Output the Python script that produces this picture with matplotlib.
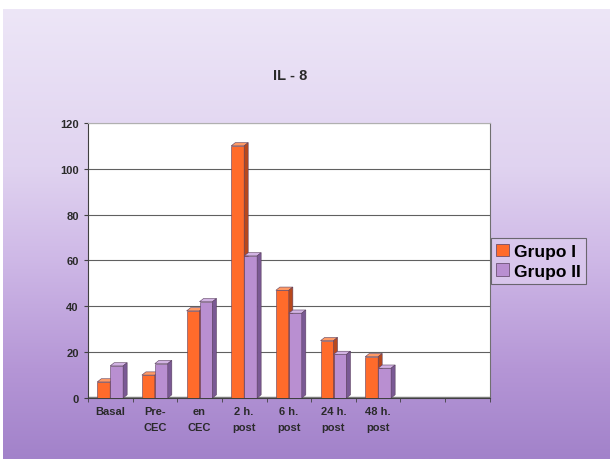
import numpy as np
import matplotlib.pyplot as plt
from matplotlib.colors import LinearSegmentedColormap
from matplotlib.patches import Polygon, Patch

categories = ['Basal', 'Pre-\nCEC', 'en\nCEC', '2 h.\npost', '6 h.\npost',
              '24 h.\npost', '48 h.\npost', '', '']
grupo1 = [7, 10, 38, 110, 47, 25, 18]
grupo2 = [14, 15, 42, 62, 37, 19, 13]
yticks = [0, 20, 40, 60, 80, 100, 120]

plt.rcParams['font.family'] = ['Liberation Sans', 'DejaVu Sans']

fig = plt.figure(figsize=(6.1, 4.6), dpi=100)

# background gradient (scanned slide look)
bg = fig.add_axes([0.005, 0, 0.995, 0.978], zorder=-10)
cmap = LinearSegmentedColormap.from_list(
    'slide', [(0, '#ede6f7'), (0.35, '#e0d3f0'), (0.55, '#cfb9e7'),
              (0.8, '#b596d6'), (1, '#a282ca')])
grad = np.linspace(0, 1, 256).reshape(-1, 1)
bg.imshow(grad, aspect='auto', cmap=cmap, extent=[0, 1, 0, 1], origin='upper')
bg.axis('off')

ax = fig.add_axes([0.144, 0.1326, 0.659, 0.598])
ax.set_facecolor('white')

w = 0.29
dx, dy = 0.09, 1.4
series = [
    (grupo1, -w, '#ff6b2b', '#ff9a66', '#b8481c', 'Grupo I'),
    (grupo2, 0.0, '#b98fd1', '#d2b3e3', '#7a5994', 'Grupo II'),
]
for vals, off, front, top, side, name in series:
    x0 = np.arange(len(vals)) + off
    ax.bar(x0, vals, width=w, align='edge', color=front,
           edgecolor='#5a4060', linewidth=0.4, zorder=3)
    for xl, h in zip(x0, vals):
        xr = xl + w
        ax.add_patch(Polygon([(xl, h), (xr, h), (xr + dx, h + dy), (xl + dx, h + dy)],
                             closed=True, facecolor=top, edgecolor='#5a4060',
                             linewidth=0.4, zorder=3))
        ax.add_patch(Polygon([(xr, 0), (xr + dx, dy), (xr + dx, h + dy), (xr, h)],
                             closed=True, facecolor=side, edgecolor='#5a4060',
                             linewidth=0.4, zorder=3))

ax.set_xlim(-0.5, len(categories) - 0.5)
ax.set_ylim(0, 120)
ax.set_yticks(yticks)
ax.yaxis.grid(True, color='#606060', linewidth=0.8, zorder=0)
ax.axhline(0, color='#808080', linewidth=2.5, zorder=2)

ax.set_xticks(np.arange(len(categories)))
ax.set_xticklabels(categories, fontsize=8, fontweight='bold', color='#2a2a2a',
                   linespacing=1.75)
ax.set_xticks(np.arange(len(categories) + 1) - 0.5, minor=True)
ax.tick_params(axis='x', which='major', length=0, pad=6)
ax.tick_params(axis='x', which='minor', length=3, direction='out', color='#404040')
ax.tick_params(axis='y', labelsize=8, length=3, direction='out', color='#404040',
               labelcolor='#2a2a2a')
for lab in ax.get_yticklabels():
    lab.set_fontweight('bold')

ax.spines['top'].set_color('#b0b0b0')
ax.spines['right'].set_color('#707070')
ax.spines['left'].set_color('#404040')
ax.spines['bottom'].set_color('#404040')

fig.text(0.475, 0.835, 'IL - 8', ha='center', va='center', fontsize=10.5,
         fontweight='bold', color='#2a2a2a')

handles = [Patch(facecolor='#ff6b2b', edgecolor='#5a4060', linewidth=0.5),
           Patch(facecolor='#b98fd1', edgecolor='#5a4060', linewidth=0.5)]
leg = fig.legend(handles, ['Grupo I', 'Grupo II'], loc='center left',
                 bbox_to_anchor=(0.79, 0.43), fontsize=12.5, frameon=True,
                 fancybox=False, handlelength=0.75, handleheight=0.75,
                 handletextpad=0.3, borderpad=0.3, labelspacing=0.25,
                 prop={'size': 12.5, 'weight': 'bold'})
leg.get_frame().set_edgecolor('#505050')
leg.get_frame().set_facecolor('#dccbee')
leg.get_frame().set_linewidth(0.8)

fig.savefig('out.png', dpi=100)
